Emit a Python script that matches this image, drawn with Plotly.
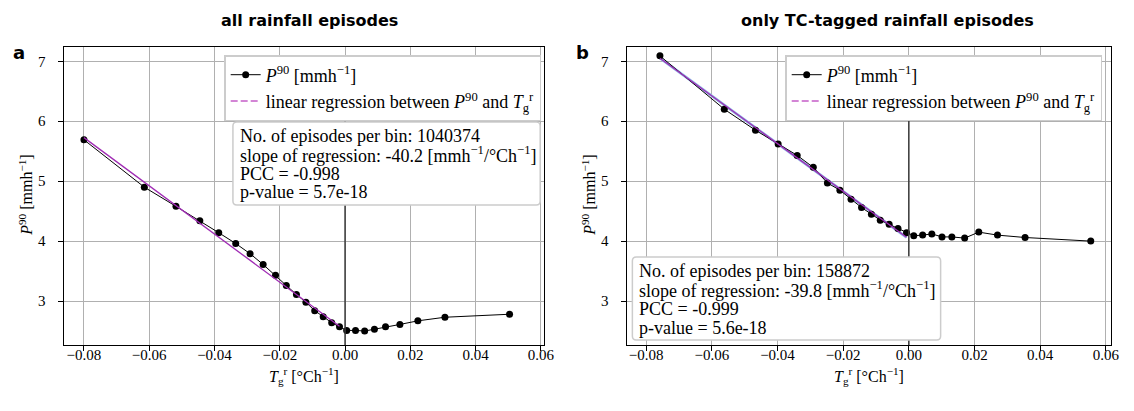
import numpy as np
import plotly.graph_objects as go

# ---------------- data ----------------
x_all = [-0.0800, -0.0615, -0.0518, -0.0445, -0.0387, -0.0335, -0.0291, -0.0251,
         -0.0213, -0.0180, -0.0149, -0.0120, -0.0093, -0.0067, -0.0041, -0.0017,
         0.0005, 0.0032, 0.0060, 0.0090, 0.0124, 0.0168, 0.0223, 0.0306, 0.0504]
y_all = [5.69, 4.90, 4.58, 4.34, 4.14, 3.96, 3.79, 3.61,
         3.43, 3.26, 3.11, 2.98, 2.84, 2.74, 2.64, 2.57,
         2.51, 2.51, 2.50, 2.53, 2.57, 2.61, 2.67, 2.73, 2.78]

x_tc = [-0.0758, -0.0562, -0.0467, -0.0398, -0.0340, -0.0291, -0.0248, -0.0210,
        -0.0176, -0.0144, -0.0114, -0.0087, -0.0060, -0.0033, -0.0007,
        0.0015, 0.0042, 0.0070, 0.0101, 0.0131, 0.0170, 0.0213, 0.0270, 0.0354, 0.0554]
y_tc = [7.09, 6.20, 5.85, 5.62, 5.43, 5.23, 4.97, 4.85,
        4.70, 4.56, 4.45, 4.35, 4.28, 4.21, 4.14,
        4.09, 4.10, 4.12, 4.07, 4.07, 4.05, 4.15, 4.10, 4.06, 4.00]

# regression parameters (slope from annotation, intercept)
slope_all, icpt_all = -40.2, 2.51
slope_tc, icpt_tc = -39.8, 4.035

stats_all = {"n": "1040374", "slope": "-40.2", "pcc": "-0.998", "p": "5.7e-18"}
stats_tc = {"n": "158872", "slope": "-39.8", "pcc": "-0.999", "p": "5.6e-18"}

titles = ["all rainfall episodes", "only TC-tagged rainfall episodes"]
panel_labels = ["a", "b"]

x_ticks = [-0.08, -0.06, -0.04, -0.02, 0.0, 0.02, 0.04, 0.06]
x_ticktext = ["\u22120.08", "\u22120.06", "\u22120.04", "\u22120.02", "0.00", "0.02", "0.04", "0.06"]
y_ticks = [3, 4, 5, 6, 7]

# ---------------- geometry ----------------
W, H = 1134, 411
SERIF = "Liberation Serif"
SANS = "DejaVu Sans"


def px(v):
    return v / W


def py(v):
    return 1 - v / H


ydom = [py(345), py(46.7)]
yrange = [2.267, 7.243]

fig = go.Figure()

P90 = "<i>P</i><sup>90</sup>"
TGR = "<i>T</i><sub>g</sub><sup>r</sup>"
leg1 = P90 + " [mmh<sup>\u22121</sup>]"
leg2 = "linear regression between " + P90 + " and " + TGR

REG_COLOR = "#a02cb4"
REG_LEG = "#c55ec8"

panels = [
    (x_all, y_all, slope_all, icpt_all, "x", "y", "legend", False),
    (x_tc, y_tc, slope_tc, icpt_tc, "x2", "y2", "legend2", True),
]

for xs, ys, sl, ic, xa, ya, lg, extra in panels:
    xs_arr = np.array(xs)
    neg = xs_arr[xs_arr < 0]
    xr = np.array([neg.min(), neg.max()])
    yr = ic + sl * xr
    if extra:
        fig.add_trace(go.Scatter(x=xr, y=yr, mode="lines", xaxis=xa, yaxis=ya,
                                 line=dict(color="#8dbbe6", width=2.6),
                                 showlegend=False, hoverinfo="skip"))
    fig.add_trace(go.Scatter(x=xs, y=ys, mode="lines+markers", xaxis=xa, yaxis=ya,
                             line=dict(color="black", width=1),
                             marker=dict(color="black", size=7),
                             name=leg1, legend=lg, showlegend=True))
    fig.add_trace(go.Scatter(x=xr, y=yr, mode="lines", xaxis=xa, yaxis=ya,
                             line=dict(color=REG_COLOR, width=1.3),
                             showlegend=False, hoverinfo="skip"))
    # legend-only dashed entry
    fig.add_trace(go.Scatter(x=[None], y=[None], mode="lines", xaxis=xa, yaxis=ya,
                             line=dict(color=REG_LEG, width=1.5, dash="7px,3px"),
                             name=leg2, legend=lg, showlegend=True))

axis_common = dict(
    showline=True, mirror=True, linecolor="black", linewidth=1,
    showgrid=True, gridcolor="#b0b0b0", gridwidth=1,
    ticks="outside", ticklen=5, tickwidth=1, tickcolor="black",
    zeroline=False,
    tickfont=dict(family=SERIF, size=15, color="black"),
)

legend_style = dict(yanchor="top", xanchor="right",
                    bgcolor="white", bordercolor="#cccccc", borderwidth=1.5,
                    font=dict(family=SERIF, size=18, color="black"),
                    tracegroupgap=0)

fig.update_layout(
    width=W, height=H,
    margin=dict(l=0, r=0, t=0, b=0),
    paper_bgcolor="white", plot_bgcolor="white",
    font=dict(family=SERIF, size=15, color="black"),
    xaxis=dict(domain=[px(65), px(549)], range=[-0.08598, 0.0610],
               tickvals=x_ticks, ticktext=x_ticktext, anchor="y",
               ticklabelstandoff=-9, **axis_common),
    yaxis=dict(domain=ydom, range=yrange, tickvals=y_ticks, anchor="x",
               ticklabelstandoff=10, **axis_common),
    xaxis2=dict(domain=[px(633), px(1121)], range=[-0.0857, 0.0616],
                tickvals=x_ticks, ticktext=x_ticktext, anchor="y2",
                ticklabelstandoff=-9, **axis_common),
    yaxis2=dict(domain=ydom, range=yrange, tickvals=y_ticks, anchor="x2",
                ticklabelstandoff=10, **axis_common),
    legend=dict(x=px(546), y=py(55), **legend_style),
    legend2=dict(x=px(1112), y=py(55), **legend_style),
    showlegend=True,
)

# vertical line at x=0 (ends under the legend)
for xa, ya in [("x", "y"), ("x2", "y2")]:
    fig.add_shape(type="line", xref=xa, yref=ya + " domain", x0=0, x1=0,
                  y0=0, y1=(6.05 - yrange[0]) / (yrange[1] - yrange[0]),
                  line=dict(color="#3a3a3a", width=1.5), layer="above")


def rounded_rect(x0, y0, x1, y1, r=4):
    # pixel coords -> paper path with rounded corners
    def P(x, y):
        return f"{px(x):.5f},{py(y):.5f}"
    return (f"M {P(x0 + r, y0)} L {P(x1 - r, y0)} Q {P(x1, y0)} {P(x1, y0 + r)} "
            f"L {P(x1, y1 - r)} Q {P(x1, y1)} {P(x1 - r, y1)} "
            f"L {P(x0 + r, y1)} Q {P(x0, y1)} {P(x0, y1 - r)} "
            f"L {P(x0, y0 + r)} Q {P(x0, y0)} {P(x0 + r, y0)} Z")


def stats_lines(s):
    return ["No. of episodes per bin: " + s["n"],
            "slope of regression: " + s["slope"] + " [mmh<sup>\u22121</sup>/\u00b0Ch<sup>\u22121</sup>]",
            "PCC = " + s["pcc"],
            "p-value = " + s["p"]]


boxes = [(stats_all, (235, 122, 545, 205), 240, 135.5),
         (stats_tc, (638, 257, 949, 340), 643, 270.5)]
for s, (bx0, by0, bx1, by1), tx, ty0 in boxes:
    fig.add_shape(type="path", xref="paper", yref="paper",
                  path=rounded_rect(bx0, by0, bx1, by1),
                  fillcolor="white", line=dict(color="#cccccc", width=1.5), layer="above")
    for i, line in enumerate(stats_lines(s)):
        fig.add_annotation(x=px(tx), y=py(ty0 + i * 19), xref="paper", yref="paper",
                           text=line, showarrow=False, xanchor="left", yanchor="middle",
                           font=dict(family=SERIF, size=18, color="black"))

# titles
for t, cx in zip(titles, [312, 895]):
    fig.add_annotation(x=px(cx), y=py(20), xref="paper", yref="paper", text="<b>" + t + "</b>",
                       showarrow=False, xanchor="center", yanchor="middle",
                       font=dict(family=SANS, size=16, color="black"))
for t, cx in zip(panel_labels, [19, 588]):
    fig.add_annotation(x=px(cx), y=py(52), xref="paper", yref="paper", text="<b>" + t + "</b>",
                       showarrow=False, xanchor="center", yanchor="middle",
                       font=dict(family=SANS, size=18, color="black"))

# axis titles
xt = TGR + " [\u00b0Ch<sup>\u22121</sup>]"
yt = P90 + " [mmh<sup>\u22121</sup>]"
for cx in [307, 877]:
    fig.add_annotation(x=px(cx), y=py(376), xref="paper", yref="paper", text=xt,
                       showarrow=False, xanchor="center", yanchor="middle",
                       font=dict(family=SERIF, size=16, color="black"))
for cx in [26, 594]:
    fig.add_annotation(x=px(cx), y=py(195), xref="paper", yref="paper", text=yt,
                       showarrow=False, xanchor="center", yanchor="middle", textangle=-90,
                       font=dict(family=SERIF, size=16, color="black"))

fig.write_html("out.html", config={"displayModeBar": False},
               post_script="document.body.style.margin='0';document.body.style.overflow='hidden';")
